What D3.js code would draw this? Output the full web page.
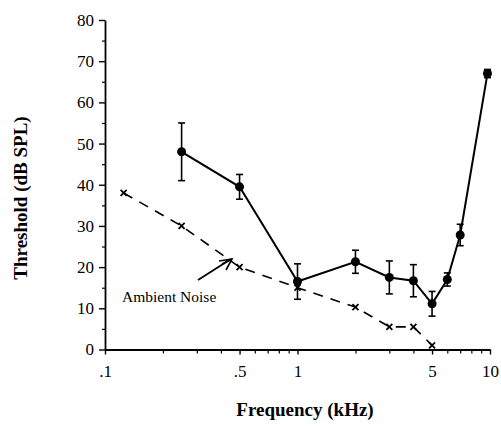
<!DOCTYPE html>
<html>
<head>
<meta charset="utf-8">
<script src="https://cdn.jsdelivr.net/npm/d3@7"></script>
<style>
  body { margin: 0; background: #fff; }
  text { font-family: "Liberation Serif", "Times New Roman", serif; fill: #000; }
</style>
</head>
<body>
<svg width="501" height="426"></svg>
<script>
// threshold curve (solid, with error bars)
let freqs = [0.25, 0.5, 1, 2, 3, 4, 5, 6, 7, 9.7]
let thresh = [48, 39.5, 16.5, 21.3, 17.5, 16.7, 11.1, 17, 27.8, 67]
let errs = [7, 3, 4.3, 2.8, 4, 3.9, 3, 1.6, 2.6, 1]

// ambient noise (dashed, x markers)
let noiseFreqs = [0.125, 0.25, 0.5, 1, 2, 3, 4, 5]
let noise = [38, 30, 20, 15, 10.3, 5.5, 5.5, 1]

let xTicks = [0.1, 0.5, 1, 5, 10]
let xTickLabels = [".1", ".5", "1", "5", "10"]
let xMinor = [0.2, 0.3, 0.4, 0.6, 0.7, 0.8, 0.9, 2, 3, 4, 6, 7, 8, 9]
let yTicks = [0, 10, 20, 30, 40, 50, 60, 70, 80]
let yMinor = [5, 15, 25, 35, 45, 55, 65, 75]

let svg = d3.select("svg")

let x = d3.scaleLog().domain([0.1, 10]).range([105, 490])
let y = d3.scaleLinear().domain([0, 80]).range([349.5, 20])

// axes
let xAxis = d3.axisBottom(x)
  .tickValues(xTicks)
  .tickFormat((d, i) => xTickLabels[i])
  .tickSize(5)
  .tickSizeOuter(0)
  .tickPadding(10)

let gx = svg.append("g")
  .attr("transform", "translate(0," + y(0) + ")")
  .call(xAxis)
gx.selectAll("text").style("font-size", "17px").attr("font-family", null)
gx.select(".domain").attr("stroke-width", 1.8)
gx.selectAll(".tick line").attr("stroke-width", 1.4)

svg.append("g")
  .attr("transform", "translate(0," + y(0) + ")")
  .call(d3.axisBottom(x).tickValues(xMinor).tickFormat("").tickSize(4).tickSizeOuter(0))
  .call(g => g.select(".domain").remove())
  .selectAll("line").attr("stroke-width", 1.2)

let yAxis = d3.axisLeft(y)
  .tickValues(yTicks)
  .tickSize(6)
  .tickSizeOuter(0)
  .tickPadding(5)

let gy = svg.append("g")
  .attr("transform", "translate(" + x(0.1) + ",0)")
  .call(yAxis)
gy.selectAll("text").style("font-size", "17px").attr("font-family", null)
gy.select(".domain").attr("stroke-width", 1.8)
gy.selectAll(".tick line").attr("stroke-width", 1.4)

svg.append("g")
  .attr("transform", "translate(" + x(0.1) + ",0)")
  .call(d3.axisLeft(y).tickValues(yMinor).tickFormat("").tickSize(3).tickSizeOuter(0))
  .call(g => g.select(".domain").remove())
  .selectAll("line").attr("stroke-width", 1.2)

// axis titles
svg.append("text")
  .attr("x", 305).attr("y", 416)
  .attr("text-anchor", "middle")
  .style("font-size", "19px").style("font-weight", "bold")
  .text("Frequency (kHz)")

svg.append("text")
  .attr("transform", "translate(27,198) rotate(-90)")
  .attr("text-anchor", "middle")
  .style("font-size", "19px").style("font-weight", "bold")
  .text("Threshold (dB SPL)")

// ambient noise dashed line
let noiseLine = d3.line().x((d, i) => x(noiseFreqs[i])).y(d => y(d))
svg.append("path")
  .datum(noise)
  .attr("d", noiseLine)
  .attr("fill", "none")
  .attr("stroke", "#000")
  .attr("stroke-width", 1.6)
  .attr("stroke-dasharray", "10,8")

svg.selectAll(".xmark")
  .data(noise)
  .enter()
  .append("path")
  .attr("class", "xmark")
  .attr("transform", (d, i) => "translate(" + x(noiseFreqs[i]) + "," + y(d) + ")")
  .attr("d", "M-3,-3L3,3M-3,3L3,-3")
  .attr("stroke", "#000")
  .attr("stroke-width", 1.8)

// threshold line
let line = d3.line().x((d, i) => x(freqs[i])).y(d => y(d))
svg.append("path")
  .datum(thresh)
  .attr("d", line)
  .attr("fill", "none")
  .attr("stroke", "#000")
  .attr("stroke-width", 2)

// error bars
let eb = svg.selectAll(".err")
  .data(thresh)
  .enter()
  .append("g")
  .attr("class", "err")
  .attr("stroke", "#000")
  .attr("stroke-width", 1.6)

eb.append("line")
  .attr("x1", (d, i) => x(freqs[i])).attr("x2", (d, i) => x(freqs[i]))
  .attr("y1", (d, i) => y(d + errs[i])).attr("y2", (d, i) => y(d - errs[i]))
eb.append("line")
  .attr("x1", (d, i) => x(freqs[i]) - 3.5).attr("x2", (d, i) => x(freqs[i]) + 3.5)
  .attr("y1", (d, i) => y(d + errs[i])).attr("y2", (d, i) => y(d + errs[i]))
eb.append("line")
  .attr("x1", (d, i) => x(freqs[i]) - 3.5).attr("x2", (d, i) => x(freqs[i]) + 3.5)
  .attr("y1", (d, i) => y(d - errs[i])).attr("y2", (d, i) => y(d - errs[i]))

svg.selectAll(".dot")
  .data(thresh)
  .enter()
  .append("circle")
  .attr("class", "dot")
  .attr("cx", (d, i) => x(freqs[i]))
  .attr("cy", d => y(d))
  .attr("r", 4.5)
  .attr("fill", "#000")

// annotation
svg.append("text")
  .attr("x", 122).attr("y", 302)
  .style("font-size", "15.5px")
  .text("Ambient Noise")

svg.append("path")
  .attr("d", "M198,280L231,259")
  .attr("stroke", "#000").attr("stroke-width", 1.8).attr("fill", "none")
svg.append("path")
  .attr("d", "M219,261L232,259L226,270M222,264L232,259")
  .attr("stroke", "#000").attr("stroke-width", 1.6).attr("fill", "none")
</script>
</body>
</html>
